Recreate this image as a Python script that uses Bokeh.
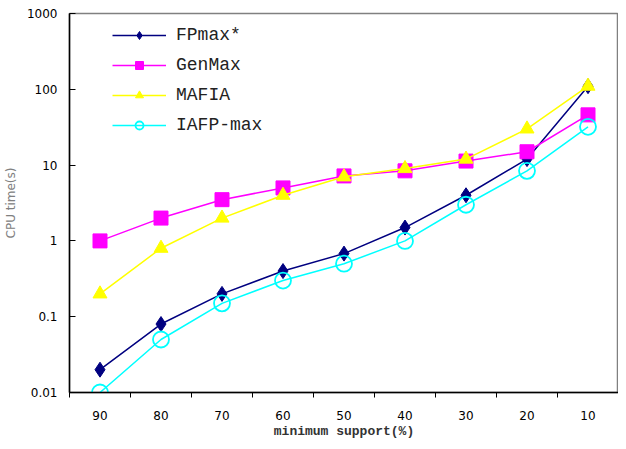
from bokeh.plotting import figure
from bokeh.models import Range1d, FixedTicker, Legend, LegendItem
from bokeh.embed import file_html
from bokeh.resources import INLINE

support = [90, 80, 70, 60, 50, 40, 30, 20, 10]
fpmax = [0.02, 0.08, 0.2, 0.4, 0.68, 1.5, 4.0, 12.0, 110.0]
genmax = [1.0, 2.0, 3.5, 5.0, 7.2, 8.4, 11.3, 15.0, 46.0]
mafia = [0.2, 0.8, 2.0, 4.0, 7.0, 9.0, 12.0, 30.0, 110.0]
iafp = [0.01, 0.05, 0.15, 0.3, 0.5, 1.0, 3.0, 8.4, 32.0]
y_ticks = [0.01, 0.1, 1, 10, 100, 1000]
y_labels = ["0.01", "0.1", "1", "10", "100", "1000"]
x_bounds = [95, 85, 75, 65, 55, 45, 35, 25, 15, 5]

p = figure(width=618, height=441, output_backend="svg", toolbar_location=None,
           y_axis_type="log", x_range=Range1d(95, 5), y_range=Range1d(0.01, 1000),
           min_border_left=66, min_border_right=0, min_border_top=13, min_border_bottom=40)
p.background_fill_color = "white"
p.border_fill_color = "white"
p.outline_line_color = "#808080"
p.outline_line_width = 1.5
p.xgrid.visible = False
p.ygrid.visible = False

# axes
p.xaxis.ticker = FixedTicker(ticks=support, minor_ticks=x_bounds)
p.xaxis.major_tick_out = 0
p.xaxis.major_tick_in = 0
p.xaxis.minor_tick_out = 5
p.xaxis.minor_tick_in = 0
p.xaxis.axis_line_color = "black"
p.xaxis.axis_line_width = 1.5
p.xaxis.minor_tick_line_color = "black"
p.xaxis.major_label_text_font = "DejaVu Sans"
p.xaxis.major_label_text_font_size = "12px"
p.xaxis.major_label_text_color = "black"
p.xaxis.major_label_standoff = 13
p.xaxis.axis_label = "minimum support(%)"
p.xaxis.axis_label_text_font = "Liberation Mono"
p.xaxis.axis_label_text_font_style = "bold"
p.xaxis.axis_label_text_font_size = "13px"
p.xaxis.axis_label_text_color = "#333333"
p.xaxis.axis_label_standoff = 1

p.yaxis.ticker = FixedTicker(ticks=y_ticks, minor_ticks=[])
p.yaxis.major_label_overrides = {t: l for t, l in zip(y_ticks, y_labels)}
p.yaxis.major_tick_in = 6
p.yaxis.major_tick_out = 0
p.yaxis.minor_tick_in = 0
p.yaxis.minor_tick_out = 0
p.yaxis.axis_line_color = "black"
p.yaxis.axis_line_width = 1.5
p.yaxis.major_label_text_font = "DejaVu Sans"
p.yaxis.major_label_text_font_size = "12px"
p.yaxis.major_label_text_color = "black"
p.yaxis.major_label_standoff = 12
p.yaxis.axis_label = "CPU time(s)"
p.yaxis.axis_label_text_font = "DejaVu Sans"
p.yaxis.axis_label_text_font_style = "normal"
p.yaxis.axis_label_text_font_size = "12px"
p.yaxis.axis_label_text_color = "#808080"
p.yaxis.axis_label_standoff = 6

lw = 1.5
l1 = p.line(support, fpmax, line_color="#000080", line_width=lw)
m1 = p.scatter(support, fpmax, marker="diamond", size=15, fill_color="#000080", line_color="#000080")
l2 = p.line(support, genmax, line_color="#FF00FF", line_width=lw)
m2 = p.scatter(support, genmax, marker="square", size=14, fill_color="#FF00FF", line_color="#FF00FF")
l3 = p.line(support, mafia, line_color="#FFFF00", line_width=lw)
m3 = p.scatter(support, mafia, marker="triangle", size=14, fill_color="#FFFF00", line_color="#FFFF00")
l4 = p.line(support, iafp, line_color="#00FFFF", line_width=lw)
m4 = p.scatter(support, iafp, marker="circle", size=16, fill_color=None, line_color="#00FFFF", line_width=1.8)

legend = Legend(items=[
    LegendItem(label="FPmax*", renderers=[l1, m1]),
    LegendItem(label="GenMax", renderers=[l2, m2]),
    LegendItem(label="MAFIA", renderers=[l3, m3]),
    LegendItem(label="IAFP-max", renderers=[l4, m4]),
], location=(43, 257))
legend.background_fill_alpha = 0
legend.border_line_alpha = 0
legend.margin = 0
legend.padding = 0
legend.spacing = 10
legend.glyph_width = 54
legend.glyph_height = 20
legend.label_height = 20
legend.label_standoff = 10
legend.label_text_font = "Liberation Mono"
legend.label_text_font_size = "18px"
legend.label_text_color = "#222222"
p.add_layout(legend)

open("out.html", "w").write(file_html(p, INLINE))
